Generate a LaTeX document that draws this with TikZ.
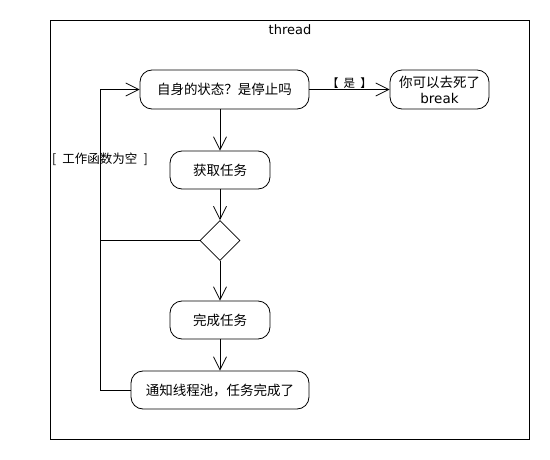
\documentclass[tikz,border=0pt]{standalone}
\usepackage{fontspec}
\setmainfont{DejaVu Sans}
\newfontfamily\cjk{Noto Sans CJK SC}
\usetikzlibrary{arrows.meta,shapes.geometric}

\begin{document}
\begin{tikzpicture}
  [
    x=1pt, y=-1pt,
    line width=0.8pt,
    >={Straight Barb[length=13pt,width=13pt]},
    every node/.style = {font=\fontsize{13}{15}\selectfont},
    act/.style    = {draw, rounded corners=12pt, align=center, inner sep=0pt,
                     font=\cjk\fontsize{13.5}{16}\selectfont},
    choice/.style = {draw, diamond, inner sep=0pt, minimum width=40pt, minimum height=40pt},
    guard/.style  = {inner sep=1pt, font=\cjk\fontsize{12.5}{14}\selectfont},
  ]

\useasboundingbox (0,0) rectangle (550,460);

%x of the loop back line
\def \loopx{100}

%Frame of the thread
\draw (50,20) rectangle (529,439);
\node (title) at (290,30) {thread};

%Actions
\node[act, minimum width=169pt, minimum height=39pt] (check) at (224.5,89.5) {自身的状态？是停止吗};
\node[act, minimum width=99pt, minimum height=39pt] (dead) at (439.5,89.5) {你可以去死了\\{\rmfamily break}};
\node[act, minimum width=100pt, minimum height=38pt] (fetch) at (220,170) {获取任务};
\node[choice] (decide) at (220,240.5) {};
\node[act, minimum width=100pt, minimum height=38pt] (finish) at (220,320) {完成任务};
\node[act, minimum width=178pt, minimum height=38pt] (notify) at (220,390) {通知线程池，任务完成了};

%Flow down
\draw[->] (check.south -| fetch.north) -- (fetch.north);
\draw[->] (fetch) -- (decide);
\draw[->] (decide) -- (finish);
\draw[->] (finish) -- (notify);
\draw[->] (check) -- node[guard, above, font=\cjk\fontsize{11.5}{13}\selectfont] {【\hspace{0.45em}是\hspace{0.45em}】} (dead);

%Loop back to the check
\coordinate (low) at (\loopx,390);
\coordinate (high) at (\loopx,89.5);
\draw[->] (notify.west) -- (low) -- (high) -- (check.west);
\draw (decide.west) -- (decide.west -| low);
\node[guard] (empty) at (100,159) {[\hspace{0.5em}工作函数为空\hspace{0.5em}]};

\end{tikzpicture}
\end{document}
